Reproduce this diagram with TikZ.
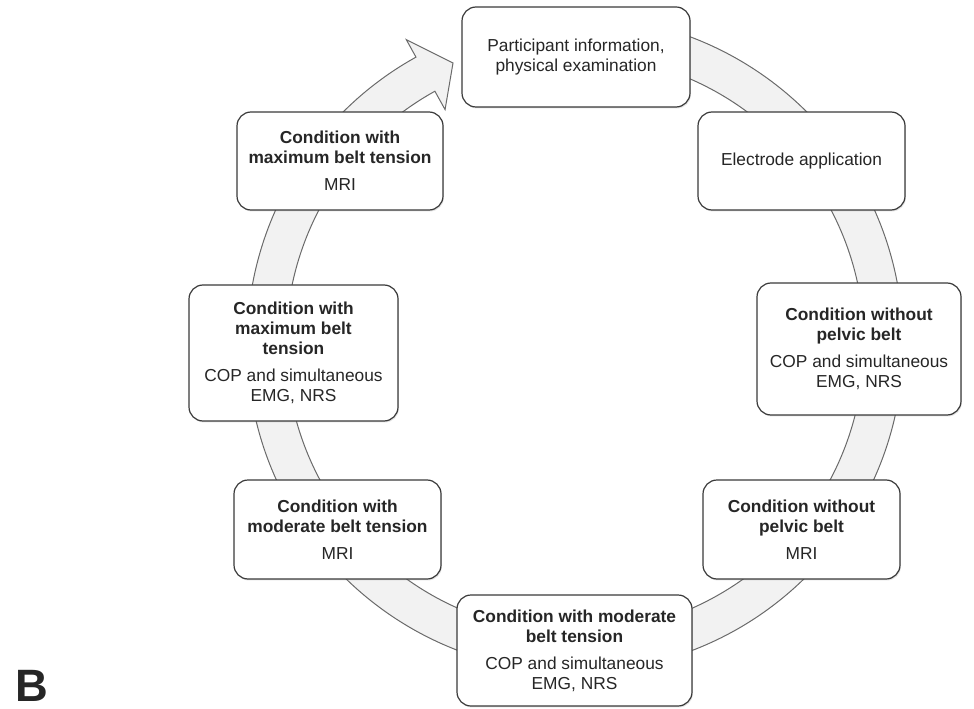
\documentclass[tikz,border=0pt]{standalone}
\usepackage{fontspec}
\setmainfont{Liberation Sans}
\usetikzlibrary{shadows}
\definecolor{ringfill}{HTML}{F2F2F2}
\definecolor{ringline}{HTML}{6A6A6A}
\definecolor{boxline}{HTML}{3A3A3A}
\definecolor{txt}{HTML}{262626}
\begin{document}
\begin{tikzpicture}[x=0.75pt,y=-0.75pt,
  stepbox/.style={draw=boxline, line width=0.9pt, fill=white, rounded corners=10.5pt,
    align=center, text=txt, font=\fontsize{13}{15}\selectfont, inner sep=0pt,
    drop shadow={opacity=0.22, shadow xshift=0.7pt, shadow yshift=-1.1pt}},
  ringstyle/.style={draw=ringline, line width=0.75pt, fill=ringfill, line join=miter}]
\useasboundingbox (0,0) rectangle (974,709);
% ring arrow
\begin{scope}[shift={(575,344)}]
  \coordinate (ho) at (241:348);
  \coordinate (hi) at (241:268);
  \coordinate (tip) at (-122,-281);
  \draw[ringstyle] (-95:328) arc[start angle=-95, end angle=241, radius=328]
    -- (ho) -- (tip) -- (hi) -- (241:289)
    arc[start angle=241, end angle=-95, radius=289] -- cycle;
\end{scope}
% boxes
\node[stepbox, minimum width=171pt, minimum height=75pt] (info) at (576,57)
  {Participant information,\\physical examination};
\node[stepbox, minimum width=155.25pt, minimum height=73.5pt] (elec) at (801.5,161)
  {Electrode application};
\node[stepbox, minimum width=153pt, minimum height=99pt] (nocop) at (859,349)
  {\textbf{Condition without}\\\textbf{pelvic belt}\\[5pt]COP and simultaneous\\EMG, NRS};
\node[stepbox, minimum width=147.75pt, minimum height=74.25pt] (nomri) at (801.5,529.5)
  {\textbf{Condition without}\\\textbf{pelvic belt}\\[5pt]MRI};
\node[stepbox, minimum width=176.25pt, minimum height=83.25pt] (modcop) at (574.5,650.5)
  {\textbf{Condition with moderate}\\\textbf{belt tension}\\[5pt]COP and simultaneous\\EMG, NRS};
\node[stepbox, minimum width=155.25pt, minimum height=74.25pt] (modmri) at (337.5,529.5)
  {\textbf{Condition with}\\\textbf{moderate belt tension}\\[5pt]MRI};
\node[stepbox, minimum width=156.75pt, minimum height=102pt] (maxcop) at (293.5,353)
  {\textbf{Condition with}\\\textbf{maximum belt}\\\textbf{tension}\\[5pt]COP and simultaneous\\EMG, NRS};
\node[stepbox, minimum width=154.5pt, minimum height=73.5pt] (maxmri) at (340,161)
  {\textbf{Condition with}\\\textbf{maximum belt tension}\\[5pt]MRI};
% panel label
\node[anchor=base west, inner sep=0pt, text=txt, font=\fontsize{34}{34}\selectfont\bfseries] (lab) at (15,701) {B};
\end{tikzpicture}
\end{document}
